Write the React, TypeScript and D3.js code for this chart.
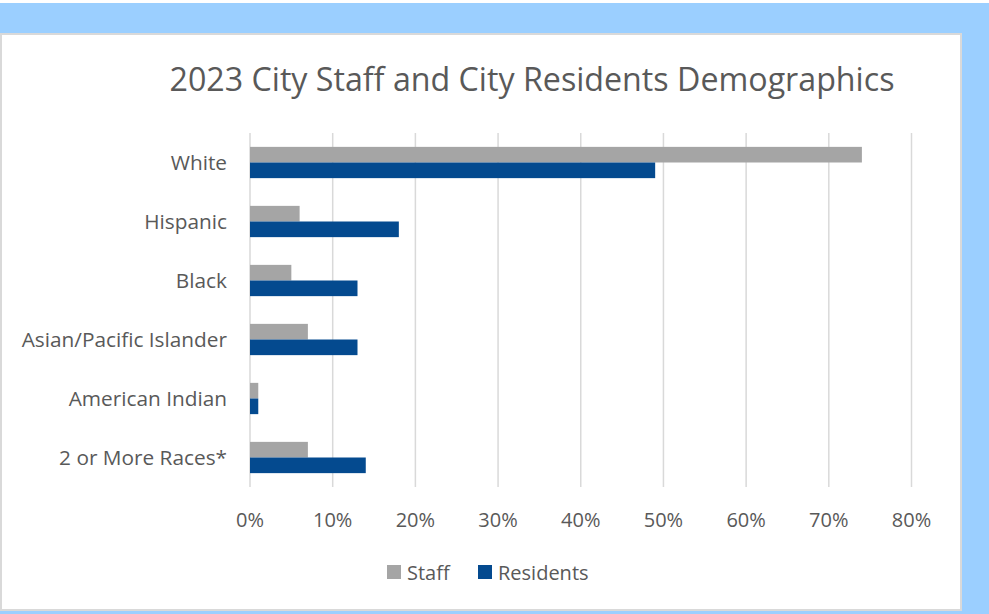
import React from "react";
import * as d3 from "d3";

const categories = ["White", "Hispanic", "Black", "Asian/Pacific Islander", "American Indian", "2 or More Races*"];
const staff = [74, 6, 5, 7, 1, 7];
const residents = [49, 18, 13, 13, 1, 14];
const seriesNames = ["Staff", "Residents"];
const xTicks = [0, 10, 20, 30, 40, 50, 60, 70, 80];
const title = "2023 City Staff and City Residents Demographics";

const W = 989;
const H = 614;
const font = "'Open Sans', 'DejaVu Sans', sans-serif";
const textColor = "#595959";
const colors = ["#A5A5A5", "#044A8F"];

export default function App() {
  const x = d3.scaleLinear().domain([0, 80]).range([250, 911.5]);
  const y = d3.scaleBand<string>().domain(categories).range([133, 487]).paddingInner(0.47).paddingOuter(0.235);
  const sub = d3.scaleBand<string>().domain(seriesNames).range([0, y.bandwidth()]);
  const values = [staff, residents];

  return (
    <svg width={W} height={H} style={{ position: "fixed", left: 0, top: 0 }} xmlns="http://www.w3.org/2000/svg">
      <rect x={0} y={0} width={W} height={H} fill="#ffffff" />
      <rect x={0} y={3} width={W} height={H - 3} fill="#9BCFFF" />
      <rect x={1} y={34} width={960} height={576} fill="#ffffff" stroke="#D9D9D9" strokeWidth={2} />
      <text x={532} y={91} textAnchor="middle" fontFamily={font} fontSize={33} fill={textColor}
        textLength={725} lengthAdjust="spacingAndGlyphs">{title}</text>
      {xTicks.map((t) => (
        <g key={t}>
          <line x1={x(t)} x2={x(t)} y1={133} y2={487} stroke="#D9D9D9" strokeWidth={1.5} />
          <text x={x(t)} y={527} textAnchor="middle" fontFamily={font} fontSize={20} fill={textColor}>{t}%</text>
        </g>
      ))}
      {categories.map((c, i) => (
        <g key={c}>
          {seriesNames.map((s, j) => (
            <rect key={s} x={x(0)} y={(y(c) as number) + (sub(s) as number)} width={x(values[j][i]) - x(0)}
              height={sub.bandwidth()} fill={colors[j]} />
          ))}
          <text x={227} y={(y(c) as number) + y.bandwidth() / 2 + 7} textAnchor="end" fontFamily={font} fontSize={20.8} fill={textColor}>{c}</text>
        </g>
      ))}
      <g>
        <rect x={387} y={565} width={14} height={14} fill={colors[0]} />
        <text x={407} y={580} fontFamily={font} fontSize={20} fill={textColor}>{seriesNames[0]}</text>
        <rect x={478} y={565} width={14} height={14} fill={colors[1]} />
        <text x={498} y={580} fontFamily={font} fontSize={20} fill={textColor}>{seriesNames[1]}</text>
      </g>
    </svg>
  );
}
